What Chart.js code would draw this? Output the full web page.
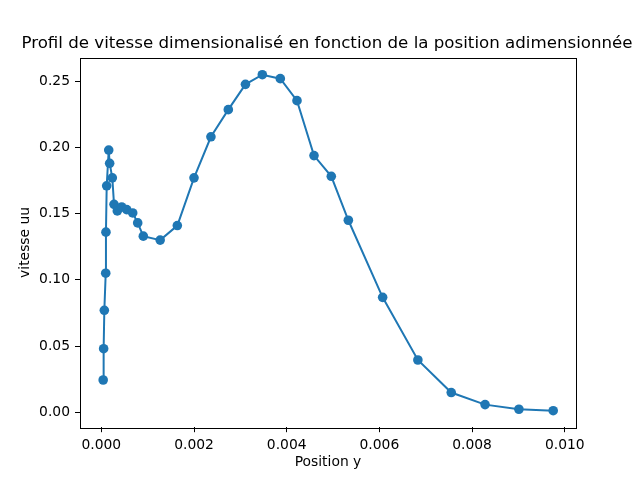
<!DOCTYPE html>
<html lang="fr">
<head>
  <meta charset="UTF-8">
  <title>Profil de vitesse</title>
  <script src="https://cdn.jsdelivr.net/npm/chart.js@4"></script>
  <style>
    html, body { margin: 0; padding: 0; background: #ffffff; }
    #wrap { width: 640px; height: 480px; position: relative; }
  </style>
</head>
<body>
  <div id="wrap"><canvas id="profil" width="640" height="480"></canvas></div>

  <script>
    // positions (y)
    const positions = [
      0.00004, 0.00005, 0.000065, 0.000095, 0.0001, 0.000116, 0.00016, 0.00018,
      0.000237, 0.000274, 0.000345, 0.00044, 0.000548, 0.000677, 0.000785, 0.000906,
      0.00127, 0.00164, 0.002, 0.002365, 0.00274, 0.00311, 0.003474, 0.003862,
      0.004222, 0.004589, 0.004962, 0.00533, 0.00607, 0.00683, 0.00755, 0.00828,
      0.00901, 0.00975
    ];
    // vitesse uu
    const vitesses = [
      0.0244, 0.048, 0.077, 0.105, 0.136, 0.171, 0.198, 0.188,
      0.177, 0.157, 0.152, 0.155, 0.153, 0.1505, 0.143, 0.133,
      0.130, 0.141, 0.177, 0.208, 0.2285, 0.2476, 0.2549, 0.2519,
      0.2353, 0.1938, 0.1782, 0.145, 0.0868, 0.0395, 0.0149, 0.0058,
      0.0023, 0.0012
    ];
    const xTicks = [0, 0.002, 0.004, 0.006, 0.008, 0.010];
    const yTicks = [0, 0.05, 0.10, 0.15, 0.20, 0.25];
    const titre = 'Profil de vitesse dimensionalisé en fonction de la position adimensionnée';

    const bleu = '#1f77b4';
    const police = 'DejaVu Sans';

    // box around the plot area + title centred over it (matplotlib style)
    const cadre = {
      id: 'cadre',
      afterDraw(chart) {
        const a = chart.chartArea;
        const ctx = chart.ctx;
        ctx.save();
        ctx.strokeStyle = '#000';
        ctx.lineWidth = 1;
        ctx.strokeRect(Math.round(a.left) + 0.5, Math.round(a.top) + 0.5,
                       Math.round(a.right - a.left), Math.round(a.bottom - a.top));
        ctx.fillStyle = '#000';
        ctx.font = '16.67px "' + police + '"';
        ctx.textAlign = 'center';
        ctx.textBaseline = 'alphabetic';
        ctx.fillText(titre, (a.left + a.right) / 2 - 1, 48.3);
        ctx.restore();
      }
    };

    const points = positions.map((x, i) => ({ x: x, y: vitesses[i] }));

    new Chart(document.getElementById('profil'), {
      type: 'scatter',
      data: {
        datasets: [{
          data: points,
          showLine: true,
          borderColor: bleu,
          backgroundColor: bleu,
          borderWidth: 2,
          pointRadius: 4.8,
          pointBorderWidth: 0,
          pointHoverRadius: 4.8
        }]
      },
      options: {
        responsive: false,
        animation: false,
        layout: { padding: { left: 16, right: 64, top: 57.6, bottom: 0 } },
        plugins: {
          legend: { display: false },
          tooltip: { enabled: false },
          title: { display: false }
        },
        scales: {
          x: {
            type: 'linear',
            min: -0.00046,
            max: 0.010242,
            afterBuildTicks: s => { s.ticks = xTicks.map(v => ({ value: v })); },
            afterFit: s => { s.height = 52.8; },
            grid: { drawOnChartArea: false, drawTicks: true, tickLength: 5, tickColor: '#000', tickWidth: 1 },
            border: { display: false },
            ticks: {
              color: '#000',
              padding: 5,
              maxRotation: 0,
              font: { family: police, size: 13.89 },
              callback: v => v.toFixed(3)
            },
            title: {
              display: true,
              text: 'Position y',
              color: '#000',
              font: { family: police, size: 13.89, lineHeight: 1.2 },
              padding: { top: 0, bottom: 9 }
            }
          },
          y: {
            type: 'linear',
            min: -0.01125,
            max: 0.2678,
            afterBuildTicks: s => { s.ticks = yTicks.map(v => ({ value: v })); },
            afterFit: s => { s.width = 64; },
            grid: { drawOnChartArea: false, drawTicks: true, tickLength: 5, tickColor: '#000', tickWidth: 1 },
            border: { display: false },
            ticks: {
              color: '#000',
              padding: 5,
              font: { family: police, size: 13.89 },
              callback: v => v.toFixed(2)
            },
            title: {
              display: true,
              text: 'vitesse uu',
              color: '#000',
              font: { family: police, size: 13.89, lineHeight: 1.2 },
              padding: { top: 1, bottom: 0 }
            }
          }
        }
      },
      plugins: [cadre]
    });
  </script>
</body>
</html>
